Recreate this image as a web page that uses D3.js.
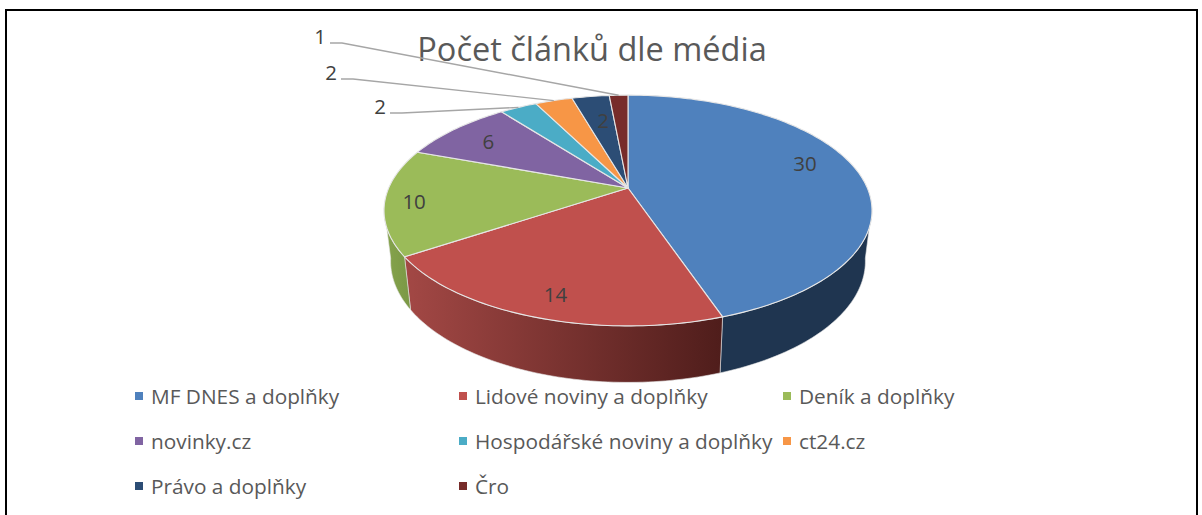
<!DOCTYPE html>
<html><head><meta charset="utf-8">
<script src="https://cdn.jsdelivr.net/npm/d3@7"></script>
<style>html,body{margin:0;padding:0;background:#fff}svg{display:block}text{font-family:"Open Sans","Noto Sans",sans-serif}</style>
</head><body><svg id="c" width="1202" height="515"></svg>
<script>
const categories=["MF DNES a doplňky","Lidové noviny a doplňky","Deník a doplňky","novinky.cz","Hospodářské noviny a doplňky","ct24.cz","Právo a doplňky","Čro"];
const values=[30,14,10,6,2,2,2,1];
const colors=["#4f81bd","#c0504d","#9bbb59","#8064a2","#4bacc6","#f79646","#2c4d75","#772c2a"];
const title="Počet článků dle média";

const svg=d3.select("#c");
// frame
svg.append("path").attr("d",`M6,515V10H1197V515`).attr("fill","none").attr("stroke","#000").attr("stroke-width",2);

// perspective projection of the pie disc
const cx=628,cy=188,Rx=239.3,Ry=111,p=0.195;
const proj=(a,r=1)=>{const u=Math.sin(a)*r,v=-Math.cos(a)*r,d=1-p*v;return [cx+Rx*u/d,cy+Ry*v/d];};
const low=(a)=>{const [x,y]=proj(a);return [cx+(x-cx)*0.973,y*1.05+40.2];};
const pie=d3.pie().sort(null).value(d=>d)(values);
const samples=(a0,a1)=>{const n=Math.max(2,Math.ceil((a1-a0)/0.02));return d3.range(n+1).map(i=>a0+(a1-a0)*i/n);};
const line=d3.line();

// side wall
const visL=Math.PI*0.555,visR=Math.PI*1.445;
const defs=svg.append("defs");
const sideStops=[["#1f3550","#1f3550"],["#a34845","#4f1d1b"],["#86a44d","#7a9845"]];
const g=svg.append("g");
pie.forEach((s,i)=>{
  const a0=Math.max(s.startAngle,visL),a1=Math.min(s.endAngle,visR);
  if(a1<=a0) return;
  const top=samples(a0,a1),pts=top.map(a=>proj(a)).concat(top.slice().reverse().map(low));
  const xs=d3.extent(pts,d=>d[0]);
  const id="side"+i;
  const lg=defs.append("linearGradient").attr("id",id).attr("gradientUnits","userSpaceOnUse")
    .attr("x1",xs[0]).attr("x2",xs[1]).attr("y1",0).attr("y2",0);
  lg.append("stop").attr("offset",0).attr("stop-color",sideStops[i][0]);
  lg.append("stop").attr("offset",1).attr("stop-color",sideStops[i][1]);
  g.append("path").attr("d",line(pts)+"Z").attr("fill",`url(#${id})`).attr("stroke","#e4e4e4").attr("stroke-width",0.6);
});
// top face
pie.forEach((s,i)=>{
  const pts=[[cx,cy]].concat(samples(s.startAngle,s.endAngle).map(a=>proj(a)));
  g.append("path").attr("d",line(pts)+"Z").attr("fill",colors[i]).attr("stroke","#e6e6e6").attr("stroke-width",1.1).attr("stroke-linejoin","round");
});

// title
svg.append("text").attr("x",592).attr("y",61).attr("text-anchor","middle").attr("font-size",32.5).attr("fill","#595959").text(title);

// data labels inside: radial fraction and fine offset per slice
const inner=[[0.75,4,-11],[0.82,2,5],[0.89,2,2],[0.79,0,1],null,null,[0.65,1,-4],null];
pie.forEach((s,i)=>{
  if(!inner[i]) return;
  const [r,dx,dy]=inner[i];
  const [x,y]=proj((s.startAngle+s.endAngle)/2,r);
  svg.append("text").attr("x",x+dx).attr("y",y+dy+7.5).attr("text-anchor","middle").attr("font-size",20.5).attr("fill","#404040").text(values[i]);
});
// leader labels
const leaderText=[[4,380,106],[5,331,72],[7,320,36]];
leaderText.forEach(([i,tx,ty])=>{
  const s=pie[i],[x,y]=proj((s.startAngle+s.endAngle)/2);
  const ly=ty+7,sx=tx+10;
  svg.append("path").attr("d",d3.line()([[sx,ly],[sx+12,ly],[x,y]])).attr("fill","none").attr("stroke","#a6a6a6").attr("stroke-width",1.4);
  svg.append("text").attr("x",tx).attr("y",ty+7.5).attr("text-anchor","middle").attr("font-size",20.5).attr("fill","#404040").text(values[i]);
});

// legend
const colX=d3.scaleOrdinal().domain([0,1,2]).range([135,459,783]);
const rowY=d3.scalePoint().domain([0,1,2]).range([396,486]);
categories.forEach((c,i)=>{
  const col=i%3,row=Math.floor(i/3),x=colX(col),y=rowY(row);
  svg.append("rect").attr("x",x).attr("y",y-4).attr("width",8).attr("height",8).attr("fill",colors[i]);
  svg.append("text").attr("x",x+16).attr("y",y+7.5).attr("font-size",20.8).attr("fill","#595959").text(c);
});
</script></body></html>
